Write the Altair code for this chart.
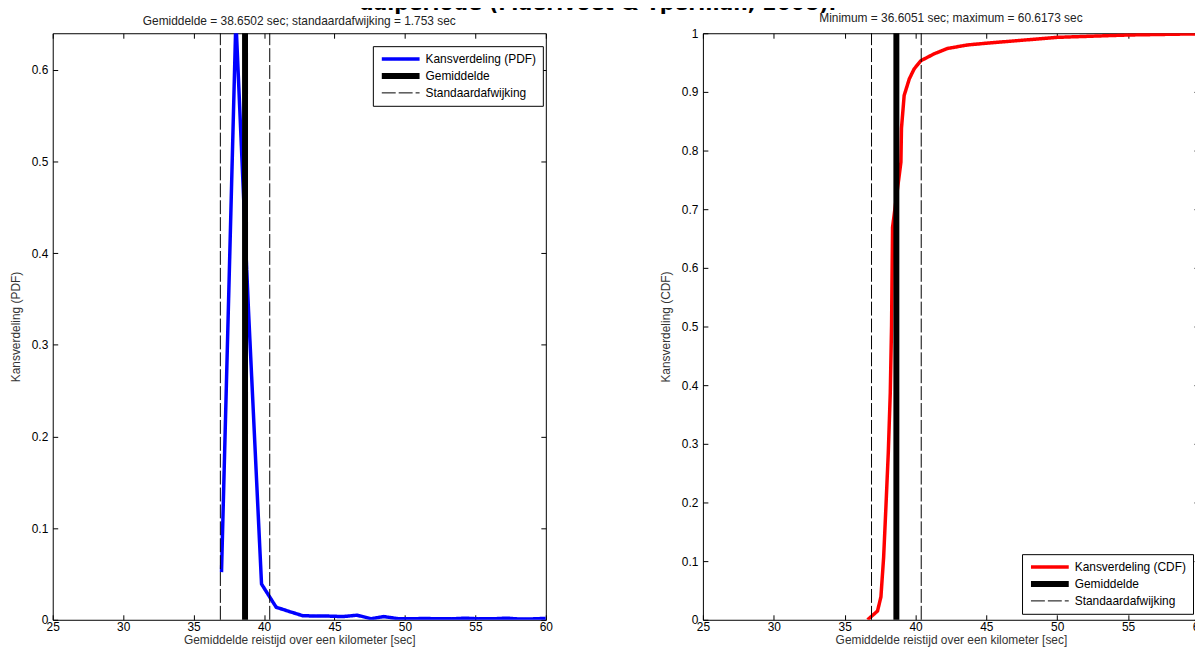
import altair as alt
import pandas as pd

FONT = "Liberation Sans"

title_text = ["dalperiode (Maerivoet & Tperman, 2008)."]

# PDF curve
pdf_x = [36.98, 38.0, 38.9, 39.82, 40.86, 41.8, 42.73, 43.7, 44.6, 45.6, 46.6, 47.6,
         48.5, 49.5, 50.4, 51.4, 52.3, 53.3, 54.3, 55.2, 56.2, 57.2, 58.1, 59.1, 60.0]
pdf_y = [0.052, 0.655, 0.336, 0.039, 0.0137, 0.009, 0.0045, 0.004, 0.004, 0.0035, 0.005, 0.0012,
         0.0035, 0.0012, 0.001, 0.0015, 0.001, 0.001, 0.0018, 0.001, 0.001, 0.0018, 0.0008, 0.001, 0.0015]

# CDF curve
cdf_x = [36.62, 37.32, 37.56, 37.75, 37.91, 38.08, 38.22, 38.31, 38.38, 38.97, 39.01, 39.2,
         39.56, 39.9, 40.37, 41.32, 42.25, 43.66, 45.0, 47.5, 50.0, 55.0, 60.0, 60.62]
cdf_y = [0.0, 0.015, 0.039, 0.106, 0.191, 0.285, 0.387, 0.5, 0.669, 0.78, 0.838, 0.894,
         0.922, 0.939, 0.953, 0.965, 0.974, 0.98, 0.983, 0.988, 0.993, 0.997, 0.999, 1.0]

mean_val = 38.6502
std_val = 1.753
std_lines = [mean_val - std_val, mean_val + std_val]

x_ticks = [25, 30, 35, 40, 45, 50, 55, 60]
pdf_y_ticks = [0, 0.1, 0.2, 0.3, 0.4, 0.5, 0.6]
cdf_y_ticks = [0, 0.1, 0.2, 0.3, 0.4, 0.5, 0.6, 0.7, 0.8, 0.9, 1.0]

pdf_names = ["Kansverdeling (PDF)", "Gemiddelde", "Standaardafwijking"]
cdf_names = ["Kansverdeling (CDF)", "Gemiddelde", "Standaardafwijking"]

x_title = "Gemiddelde reistijd over een kilometer [sec]"
pdf_subtitle = "Gemiddelde = 38.6502 sec; standaardafwijking = 1.753 sec"
cdf_subtitle = "Minimum = 36.6051 sec; maximum = 60.6173 sec"

PLOT_H = 590


def panel(xs, ys, names, line_color, ymax, yticks, ytitle, subtitle, W, H, lx, ly):
    curve, mean_name, std_name = names
    order = [std_name, curve, mean_name]
    legend = alt.Legend(
        orient="none", legendX=lx, legendY=ly, title=None,
        values=[curve, mean_name, std_name],
        symbolType="stroke", symbolSize=1444, clipHeight=14, rowPadding=3,
        padding=6, labelOffset=3, labelFont=FONT, labelFontSize=12,
        labelColor="black", strokeColor="black", fillColor="white",
    )
    enc = dict(
        color=alt.Color("series:N", scale=alt.Scale(domain=order, range=["#000000", line_color, "#000000"]), legend=legend),
        strokeWidth=alt.StrokeWidth("series:N", scale=alt.Scale(type="point", domain=order, range=[1, 6], padding=0), legend=legend),
        strokeDash=alt.StrokeDash("series:N", scale=alt.Scale(domain=order, range=[[14, 3], [1, 0], [1, 0]]), legend=legend),
    )
    xscale = alt.Scale(domain=[25, 60], nice=False, zero=False)
    yscale = alt.Scale(domain=[0, ymax], nice=False, zero=False)

    def tick_axis(orient, offset, values):
        return alt.Axis(orient=orient, offset=offset, values=values, labels=False,
                        tickSize=5, domain=False, grid=False, title=None, minExtent=0)

    line_df = pd.DataFrame({"x": xs, "y": ys, "series": curve})
    std_df = pd.DataFrame({"x": std_lines, "series": std_name})
    mean_df = pd.DataFrame({"x": [mean_val], "series": mean_name})

    line = alt.Chart(line_df).mark_line(clip=True).encode(
        x=alt.X("x:Q", scale=xscale, axis=alt.Axis(
            orient="bottom", values=x_ticks, format="d", title=x_title, ticks=False,
            domain=False, grid=False, labelPadding=2, titlePadding=2, labelFlush=False,
            minExtent=0)),
        y=alt.Y("y:Q", scale=yscale, axis=alt.Axis(
            orient="left", values=yticks, format=".1~f", title=ytitle, ticks=False,
            domain=False, grid=False, labelPadding=5, titlePadding=9, minExtent=0)),
        **enc,
    )
    std = alt.Chart(std_df).mark_rule().encode(
        x=alt.X("x:Q", scale=xscale, axis=tick_axis("top", -H, x_ticks)),
        y=alt.YDatum(0, type="quantitative", scale=yscale, axis=tick_axis("right", -W, yticks)),
        y2=alt.datum(ymax),
        **enc,
    )
    mean = alt.Chart(mean_df).mark_rule().encode(
        x=alt.X("x:Q", scale=xscale, axis=tick_axis("bottom", -H, x_ticks)),
        y=alt.YDatum(0, type="quantitative", scale=yscale, axis=tick_axis("left", -W, yticks)),
        y2=alt.datum(ymax),
        **enc,
    )
    return alt.layer(line, std, mean).properties(
        width=W, height=H,
        title=alt.TitleParams(text=subtitle, offset=2, anchor="middle", frame="group"),
    )


left = panel(pdf_x, pdf_y, pdf_names, "#0000ff", 0.64, pdf_y_ticks,
             "Kansverdeling (PDF)", pdf_subtitle, 496, PLOT_H, 322, 13)
right = panel(cdf_x, cdf_y, cdf_names, "#ff0000", 1.0, cdf_y_ticks,
              "Kansverdeling (CDF)", cdf_subtitle, 499, PLOT_H, 321, 524)

row = alt.hconcat(left, right, spacing=105).resolve_scale(
    color="independent", strokeWidth="independent", strokeDash="independent"
)

title_view = alt.Chart(pd.DataFrame({"t": title_text})).mark_text(
    font="DejaVu Sans", fontWeight="bold", fontSize=20.5,
    align="center", baseline="alphabetic", color="black",
).encode(
    text="t:N", x=alt.value(548), y=alt.value(16.5)
).properties(width=1000, height=24, view=alt.ViewBackground(strokeOpacity=0))

chart = alt.vconcat(title_view, row, spacing=-6.5).configure(
    padding={"left": 0, "top": -16, "right": -12, "bottom": 0}, font=FONT
).configure_view(
    stroke="black", strokeWidth=1
).configure_axis(
    labelFont=FONT, labelFontSize=12, labelColor="black",
    titleFont=FONT, titleFontSize=12, titleFontWeight="normal", titleColor="#333",
    tickColor="black",
).configure_title(
    font=FONT, fontSize=12, fontWeight="normal", color="#222"
)

chart.save("out.html", embed_options={"renderer": "svg", "actions": False})
